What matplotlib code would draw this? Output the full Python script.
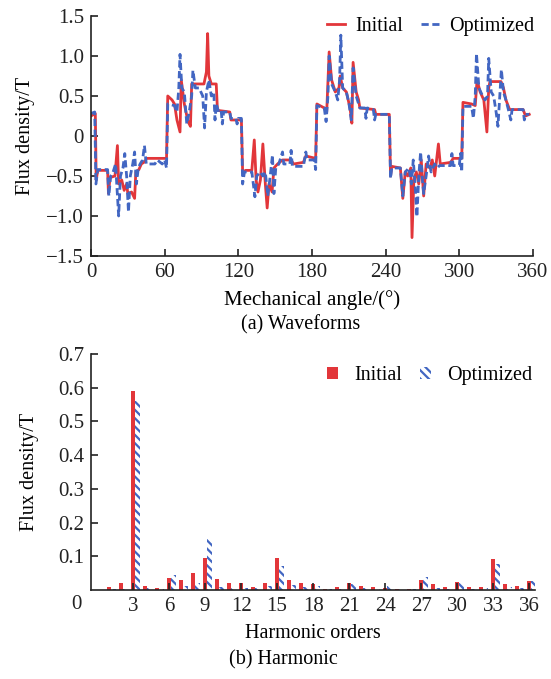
import matplotlib
matplotlib.use('Agg')
import matplotlib.pyplot as plt
import numpy as np

plt.rcParams['font.family'] = ['Liberation Serif', 'DejaVu Serif']
plt.rcParams['hatch.linewidth'] = 1.6

RED = '#e2363a'
BLUE = '#4266c2'

# air-gap flux density waveforms, (mechanical angle in deg, B in T)
initial_wave = [
    (0, 0.25), (3.5, 0.28), (4.2, -0.55), (5.5, -0.43), (13.5, -0.43), (14.2, -0.72),
    (15.5, -0.52), (19.5, -0.5), (21.5, -0.12), (22.5, -0.6), (25, -0.55), (27, -0.68),
    (29, -0.6), (30, -0.72), (33, -0.7), (35.5, -0.78), (36.5, -0.45), (39, -0.42),
    (41, -0.35), (44, -0.32), (45, -0.28), (61.5, -0.28), (62.5, 0.5), (66, 0.45),
    (68, 0.4), (70, 0.2), (72.5, 0.05), (73.5, 0.7), (76, 0.4), (79, 0.18), (81, 0.12),
    (82, 0.65), (92, 0.65), (94, 0.8), (95, 1.28), (96, 0.75), (98, 0.65), (102, 0.65),
    (103, 0.32), (113, 0.3), (114, 0.2), (122.5, 0.2),
    (123.5, -0.45), (126, -0.43), (131, -0.43), (133, -0.05), (134.5, -0.55), (136, -0.7),
    (138, -0.55), (140, -0.1), (142, -0.6), (143.5, -0.9), (145, -0.6), (147.5, -0.7),
    (149, -0.4), (152, -0.35), (156, -0.3), (163, -0.3), (165, -0.35), (173, -0.33),
    (175, -0.25), (183, -0.28), (184, 0.4), (190, 0.35), (192, 0.3), (194, 1.05),
    (196, 0.7), (199, 0.55), (202, 0.6), (203, 0.75), (205, 0.6), (208, 0.55), (211, 0.35),
    (212.5, 0.16), (213.5, 0.92), (216, 0.55), (218, 0.45), (219, 0.35), (231, 0.33),
    (232, 0.27), (243, 0.27),
    (244, -0.5), (245, -0.38), (252, -0.4), (254, -0.78), (256, -0.45), (258, -0.5),
    (260.5, -0.4), (261.5, -1.27), (263, -0.55), (265, -0.45), (267, -0.6), (269, -0.3),
    (271, -0.75), (273, -0.35), (276, -0.4), (278, -0.3), (280, -0.5), (283, -0.1),
    (284.5, -0.35), (293, -0.33), (295, -0.28), (302, -0.28), (303, 0.42), (310, 0.4),
    (313, 0.38), (314.5, 0.7), (317, 0.55), (320, 0.45), (322.5, 0.05), (324, 0.6),
    (325, 0.68), (334, 0.68), (336, 0.6), (338, 0.45), (341, 0.33), (352, 0.33),
    (354, 0.25), (357, 0.27),
]

optimized_wave = [
    (0, 0.28), (3, 0.3), (4, -0.6), (5.5, -0.42), (13.5, -0.42), (14.5, -0.75), (16, -0.5),
    (18, -0.45), (20, -0.35), (22.5, -1.0), (24, -0.5), (26, -0.4), (27.5, -0.22),
    (29, -0.5), (30.5, -0.95), (32, -0.5), (34, -0.35), (35.5, -0.2), (37, -0.6),
    (38.5, -0.4), (40, -0.35), (42, -0.3), (43.5, -0.12), (45, -0.35), (52, -0.35),
    (54, -0.3), (58, -0.35), (60, -0.3), (61.5, -0.4), (62.5, 0.4), (68, 0.38), (70, 0.3),
    (71.5, 0.6), (72.5, 1.02), (74, 0.6), (76, 0.55), (78, 0.15), (80, 0.3), (82, 0.5),
    (83, 0.82), (85, 0.6), (88, 0.6), (91, 0.5), (92.5, 0.1), (94, 0.55), (96, 0.7),
    (98, 0.5), (100, 0.55), (101, 0.2), (102, 0.4), (104, 0.3), (106, 0.32), (107, 0.15),
    (108, 0.3), (113, 0.3), (114, 0.22), (118, 0.22), (119, 0.15), (120, 0.22),
    (122.5, 0.22),
    (123.5, -0.6), (125, -0.45), (131, -0.45), (133.5, -0.76), (135, -0.5), (138, -0.45),
    (140, -0.5), (142, -0.45), (144, -0.75), (146, -0.5), (147.8, -0.24), (149, -0.72),
    (150.5, -0.4), (153, -0.35), (156, -0.2), (157, -0.35), (162, -0.35), (163, -0.18),
    (164, -0.38), (173, -0.38), (175, -0.2), (176, -0.3), (182, -0.3), (183, -0.42),
    (184, 0.38), (190, 0.35), (191.5, 0.18), (193, 0.5), (194, 1.0), (196, 0.65),
    (199, 0.55), (201, 0.45), (202.5, 0.7), (203.5, 1.26), (205, 0.6), (208, 0.55),
    (210, 0.42), (212, 0.2), (213.5, 0.85), (216, 0.5), (218, 0.4), (219, 0.35),
    (223, 0.35), (224, 0.22), (225, 0.35), (230, 0.33), (231, 0.2), (232, 0.27), (243, 0.27),
    (244, -0.53), (245, -0.4), (252, -0.4), (254, -0.75), (256, -0.45), (259, -0.4),
    (261, -0.6), (262.5, -0.3), (264, -0.6), (265.5, -1.01), (267, -0.5), (268.5, -0.2),
    (270, -0.55), (271, -0.72), (273, -0.5), (275, -0.25), (277, -0.45), (280, -0.35),
    (282, -0.4), (284, -0.37), (293, -0.37), (294, -0.22), (295, -0.37), (300, -0.37),
    (301, -0.22), (302, -0.45), (303, 0.37), (310, 0.37), (311.5, 0.22), (313, 0.5),
    (314, 1.03), (316, 0.6), (319, 0.5), (321, 0.45), (323, 0.5), (324, 0.97), (326, 0.55),
    (328, 0.5), (330, 0.3), (331.5, 0.12), (333, 0.5), (334.3, 0.83), (336, 0.55),
    (338, 0.45), (340, 0.33), (342, 0.2), (343, 0.33), (352, 0.33), (353, 0.2),
    (354, 0.27), (357, 0.27),
]

# harmonic spectrum amplitudes (T), orders 1..36
orders = list(range(1, 37))
amp_initial = [0.010, 0.020, 0.590, 0.012, 0.005, 0.035, 0.030, 0.050, 0.095, 0.033,
               0.020, 0.022, 0.010, 0.020, 0.095, 0.030, 0.020, 0.018, 0.003, 0.008,
               0.020, 0.012, 0.008, 0.005, 0.002, 0.002, 0.030, 0.018, 0.008, 0.025,
               0.008, 0.008, 0.092, 0.018, 0.012, 0.028]
amp_optimized = [0.002, 0.004, 0.560, 0.005, 0.003, 0.045, 0.012, 0.020, 0.150, 0.010,
                 0.005, 0.005, 0.005, 0.012, 0.070, 0.015, 0.010, 0.012, 0.002, 0.003,
                 0.018, 0.005, 0.003, 0.012, 0.002, 0.002, 0.038, 0.005, 0.003, 0.022,
                 0.003, 0.005, 0.078, 0.008, 0.005, 0.028]

fig = plt.figure(figsize=(5.51, 6.79), dpi=100)
ax1 = fig.add_axes([0.1652, 0.623, 0.802, 0.3535])
ax2 = fig.add_axes([0.1652, 0.1311, 0.806, 0.3476])

for ax in (ax1, ax2):
    ax.spines['top'].set_visible(False)
    ax.spines['right'].set_visible(False)
    for s in ('left', 'bottom'):
        ax.spines[s].set_linewidth(1.2)
        ax.spines[s].set_color('#222222')
    ax.tick_params(direction='in', length=5, width=1.2, labelsize=15, pad=5,
                   colors='#222222')

# (a) waveforms
a_i, b_i = np.array(initial_wave).T
a_o, b_o = np.array(optimized_wave).T
ax1.plot(a_i, b_i, color=RED, lw=2.0, label='Initial')
ax1.plot(a_o, b_o, color=BLUE, lw=2.0, ls=(0, (2.6, 1.3)), label='Optimized')
ax1.set_xlim(0, 360)
ax1.set_ylim(-1.5, 1.5)
ax1.set_xticks(np.arange(0, 361, 60))
yt = [-1.5, -1.0, -0.5, 0, 0.5, 1.0, 1.5]
ax1.set_yticks(yt)
ax1.set_yticklabels(['\u22121.5', '\u22121.0', '\u22120.5', '0', '0.5', '1.0', '1.5'])
ax1.set_ylabel('Flux density/T', fontsize=14.5, labelpad=8)
ax1.set_xlabel('Mechanical angle/(\u00b0)', fontsize=15, labelpad=6)
ax1.legend(loc='upper right', bbox_to_anchor=(1.045, 1.07), ncol=2, frameon=False,
           fontsize=14.5, handlelength=0.9, columnspacing=0.9, handletextpad=0.5)
fig.text(0.545, 0.522, '(a) Waveforms', ha='center', va='center', fontsize=14.5)

# (b) harmonic spectrum
x = np.array(orders)
ax2.bar(x - 0.02, amp_initial, width=0.36, color=RED, lw=0, label='Initial')
ax2.bar(x + 0.35, amp_optimized, width=0.38, color='white', edgecolor=BLUE,
        hatch='\\\\\\\\', lw=0, label='Optimized')
ax2.set_xlim(-0.5, 36.5)
ax2.set_ylim(0, 0.7)
ax2.set_xticks(np.arange(3, 37, 3))
ax2.set_yticks(np.arange(0.1, 0.71, 0.1))
ax2.set_yticklabels(['0.1', '0.2', '0.3', '0.4', '0.5', '0.6', '0.7'])
ax2.text(-0.022, -0.02, '0', transform=ax2.transAxes, ha='right', va='top',
         fontsize=15, color='#222222')
ax2.set_ylabel('Flux density/T', fontsize=14.5, labelpad=14)
ax2.set_xlabel('Harmonic orders', fontsize=14.5, labelpad=6)
ax2.legend(loc='upper right', bbox_to_anchor=(1.035, 1.025), ncol=2, frameon=False,
           fontsize=14.5, handlelength=0.55, handleheight=0.6, columnspacing=0.9,
           handletextpad=0.8)
fig.text(0.515, 0.028, '(b) Harmonic', ha='center', va='center', fontsize=14.5)

fig.savefig('out.png', dpi=100, facecolor='white')
plt.close(fig)
